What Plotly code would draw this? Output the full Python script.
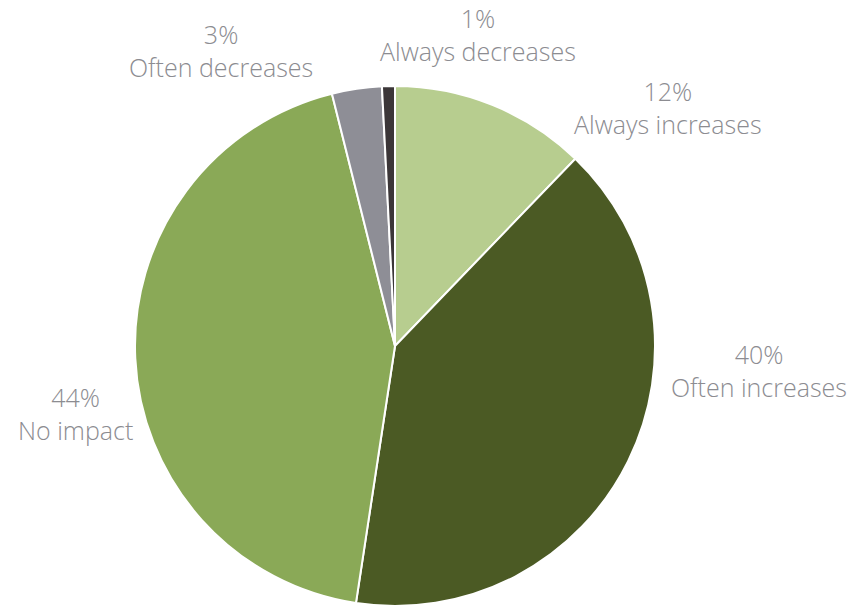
import plotly.graph_objects as go

# slices, clockwise from 12 o'clock
labels = ['Always increases', 'Often increases', 'No impact', 'Often decreases', 'Always decreases']
shares = [12.2, 40.2, 43.7, 3.1, 0.8]          # angles
pct_text = ['12%', '40%', '44%', '3%', '1%']      # printed labels
colors = ['#b7cd8f', '#4b5a24', '#8aa957', '#8e8e96', '#3b3638']

# label centres (pixels)
label_x = [668, 759, 75, 221, 478]
label_y = [107, 370, 413, 51, 35]

W, H = 860, 608

fig = go.Figure(go.Pie(
    labels=labels, values=shares, sort=False, direction='clockwise', rotation=0,
    marker=dict(colors=colors, line=dict(color='white', width=2)),
    textinfo='none', hoverinfo='label+percent', showlegend=False,
    domain=dict(x=[133 / W, 657 / W], y=[1 - 606 / H, 1 - 86 / H]),
))

for lab, pct, x, y in zip(labels, pct_text, label_x, label_y):
    fig.add_annotation(
        x=x / W, y=1 - y / H, xref='paper', yref='paper',
        xanchor='center', yanchor='middle',
        text=pct + '<br>' + lab, showarrow=False, align='center',
        font=dict(family='Open Sans', size=25, color='#8c8c91', weight=300),
    )

fig.update_layout(
    width=W, height=H, margin=dict(l=0, r=0, t=0, b=0),
    paper_bgcolor='white', plot_bgcolor='white',
)

# drop the default page margin so the figure sits at the window origin
fig.write_html('out.html', config={'displayModeBar': False},
               post_script="document.body.style.margin='0';")
